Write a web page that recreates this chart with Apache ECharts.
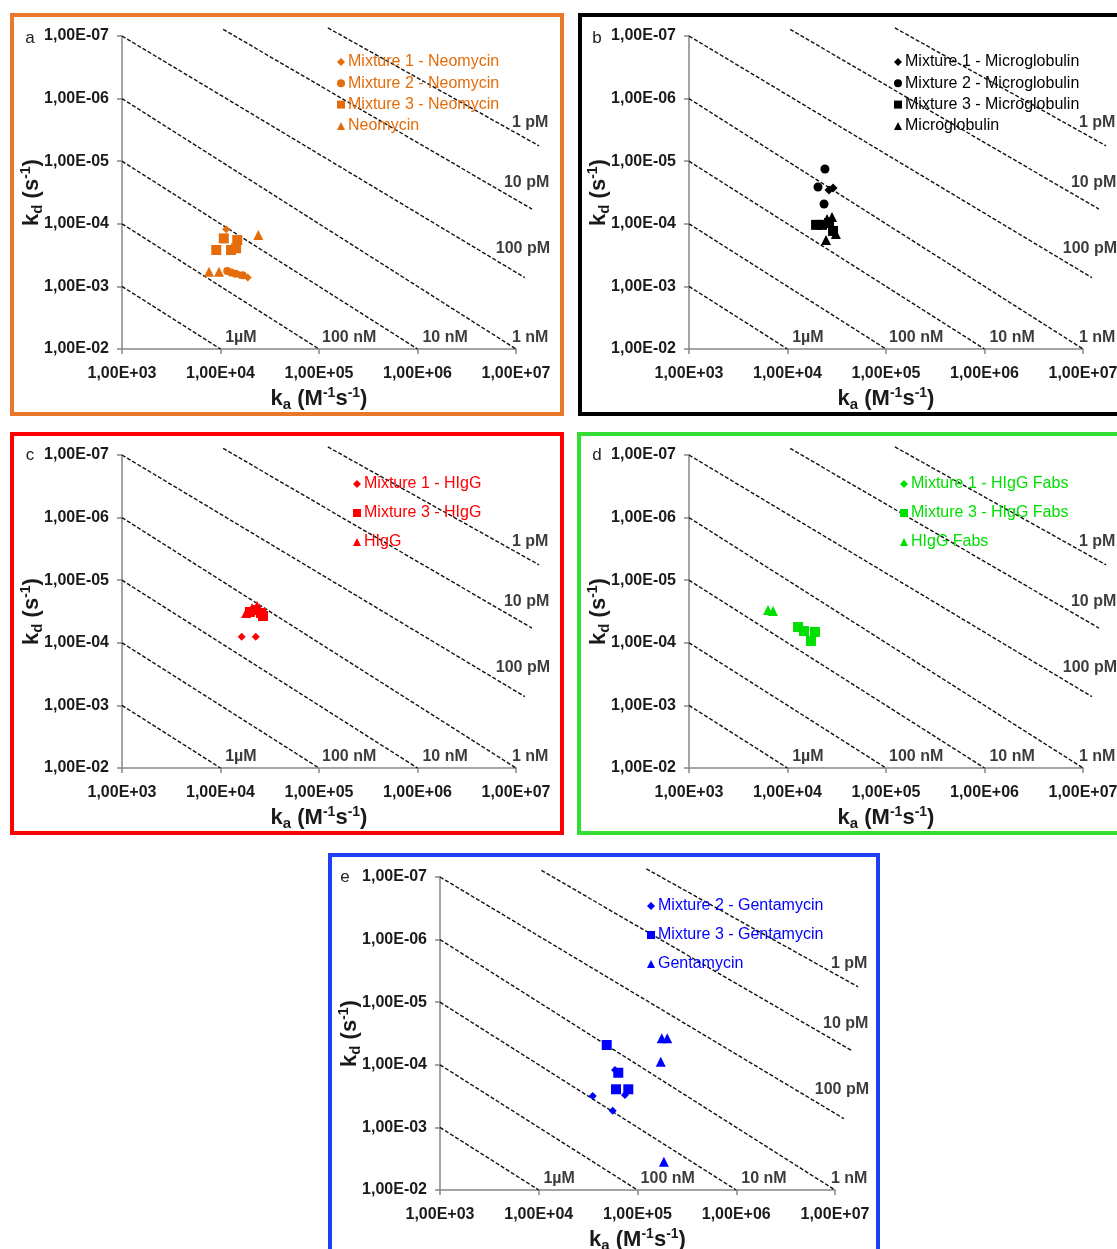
<!DOCTYPE html>
<html><head><meta charset="utf-8">
<script src="https://cdn.jsdelivr.net/npm/echarts/dist/echarts.min.js"></script>
<style>html,body{margin:0;padding:0;background:#fff}#c{width:1117px;height:1249px}</style>
</head><body><div id="c"></div>
<script>
// ---------------- data ----------------
const kaTicks = [1e3, 1e4, 1e5, 1e6, 1e7];
const kdTicks = [1e-7, 1e-6, 1e-5, 1e-4, 1e-3, 1e-2];

// iso-affinity (KD) dashed lines, endpoints as [log10 ka, log10 kd]
const isoNames   = ['1 pM', '10 pM', '100 pM', '1 nM', '10 nM', '100 nM', '1µM'];
const isoStart   = [[5.09, -7.13], [4.027, -7.106], [3, -7], [3, -6], [3, -5], [3, -4], [3, -3]];
const isoEnd     = [[7.234, -5.245], [7.162, -4.234], [7.09, -3.14], [7, -2], [6, -2], [5, -2], [4, -2]];
const isoLabelAt = [[7.144, -5.617], [7.108, -4.66], [7.07, -3.6], [7.144, -2.186], [6.28, -2.186], [5.306, -2.186], [4.207, -2.186]];

// panel a – Neomycin  [ka, kd]
const neoMix1 = [[1.14e4, 1.22e-4], [1.89e4, 7.2e-4], [1.56e4, 6.6e-4]];
const neoMix2 = [[1.17e4, 5.7e-4], [1.28e4, 6.0e-4], [1.42e4, 6.3e-4], [1.68e4, 6.65e-4]];
const neoMix3 = [[1.08e4, 1.71e-4], [1.48e4, 1.82e-4], [9.06e3, 2.62e-4], [1.28e4, 2.62e-4], [1.44e4, 2.46e-4]];
const neoFree = [[2.42e4, 1.51e-4], [7.64e3, 5.82e-4], [9.66e3, 5.82e-4]];

// panel b – Microglobulin
const micMix1 = [[2.64e4, 2.88e-5], [2.90e4, 2.68e-5]];
const micMix2 = [[2.40e4, 1.33e-5], [2.04e4, 2.58e-5], [2.35e4, 4.83e-5]];
const micMix3 = [[1.95e4, 1.04e-4], [2.24e4, 1.04e-4], [2.64e4, 9.7e-5], [2.90e4, 1.30e-4]];
const micFree = [[2.83e4, 7.8e-5], [2.52e4, 8.4e-5], [3.10e4, 1.46e-4], [2.46e4, 1.82e-4]];

// panel c – HIgG
const igMix1 = [[1.64e4, 8.0e-5], [2.28e4, 8.0e-5]];
const igMix3 = [[1.99e4, 3.22e-5], [2.29e4, 2.99e-5], [2.58e4, 3.34e-5], [2.70e4, 3.73e-5]];
const igFree = [[1.82e4, 3.34e-5], [2.09e4, 2.78e-5], [2.35e4, 2.58e-5]];

// panel d – HIgG Fabs
const fabMix1 = [[1.51e4, 6.25e-5]];
const fabMix3 = [[1.28e4, 5.6e-5], [1.47e4, 6.5e-5], [1.90e4, 6.7e-5], [1.73e4, 9.35e-5]];
const fabFree = [[6.34e3, 2.99e-5], [7.13e3, 3.11e-5]];

// panel e – Gentamycin
const genMix2 = [[5.92e4, 1.21e-4], [7.46e4, 3.03e-4], [3.52e4, 3.15e-4], [5.61e4, 5.4e-4]];
const genMix3 = [[4.88e4, 4.83e-5], [6.39e4, 1.34e-4], [6.06e4, 2.46e-4], [8.07e4, 2.46e-4]];
const genFree = [[1.76e5, 3.78e-5], [2.00e5, 3.78e-5], [1.72e5, 8.9e-5], [1.85e5, 3.53e-3]];

// ---------------- layout / style ----------------
const FONT = 'Liberation Sans, Arial, Helvetica, sans-serif';
const panels = [
  { letter: 'a', gx: 122, gy: 36, gw: 394, color: '#E46C0A', frame: '#E8782A', rect: [12, 15, 550, 399], lpos: [30, 38],
    legend: { left: 337, top: 54, gap: 5.3 },
    series: [['Mixture 1 - Neomycin', neoMix1, 'diamond', 8], ['Mixture 2 - Neomycin', neoMix2, 'circle', 8],
             ['Mixture 3 - Neomycin', neoMix3, 'rect', 10], ['Neomycin', neoFree, 'triangle', 10]] },
  { letter: 'b', gx: 689, gy: 36, gw: 394, color: '#000000', frame: '#000000', rect: [580, 15, 580, 399], lpos: [597, 38],
    legend: { left: 894, top: 54, gap: 5.3 },
    series: [['Mixture 1 - Microglobulin', micMix1, 'diamond', 9], ['Mixture 2 - Microglobulin', micMix2, 'circle', 9],
             ['Mixture 3 - Microglobulin', micMix3, 'rect', 10], ['Microglobulin', micFree, 'triangle', 10]] },
  { letter: 'c', gx: 122, gy: 455, gw: 394, color: '#FF0000', frame: '#FF0000', rect: [12, 434, 550, 399], lpos: [30, 455],
    legend: { left: 353, top: 476, gap: 13 },
    series: [['Mixture 1 - HIgG', igMix1, 'diamond', 8], ['Mixture 3 - HIgG', igMix3, 'rect', 10],
             ['HIgG', igFree, 'triangle', 10]] },
  { letter: 'd', gx: 689, gy: 455, gw: 394, color: '#00E000', frame: '#33DD33', rect: [579, 434, 580, 399], lpos: [597, 455],
    legend: { left: 900, top: 476, gap: 13 },
    series: [['Mixture 1 - HIgG Fabs', fabMix1, 'diamond', 8], ['Mixture 3 - HIgG Fabs', fabMix3, 'rect', 10],
             ['HIgG Fabs', fabFree, 'triangle', 10]] },
  { letter: 'e', gx: 440, gy: 877, gw: 395, color: '#0000FF', frame: '#1F3FF5', rect: [330, 855, 548, 420], lpos: [345, 877],
    legend: { left: 647, top: 898, gap: 13 },
    series: [['Mixture 2 - Gentamycin', genMix2, 'diamond', 8], ['Mixture 3 - Gentamycin', genMix3, 'rect', 10],
             ['Gentamycin', genFree, 'triangle', 10]] }
];

const fmtExp = v => {
  const e = Math.round(Math.log10(v));
  return '1,00E' + (e < 0 ? '-' : '+') + String(Math.abs(e)).padStart(2, '0');
};
const richName = {
  k:   { fontSize: 22, fontWeight: 'bold', color: '#1a1a1a', fontFamily: FONT, lineHeight: 26 },
  sub: { fontSize: 15, fontWeight: 'bold', color: '#1a1a1a', fontFamily: FONT, verticalAlign: 'bottom' },
  sup: { fontSize: 14, fontWeight: 'bold', color: '#1a1a1a', fontFamily: FONT, verticalAlign: 'top' }
};
const axisColor = '#868686';

const grids = [], xAxes = [], yAxes = [], series = [], legends = [], graphics = [];
const P = v => Math.pow(10, v);

panels.forEach((p, i) => {
  grids.push({ left: p.gx, top: p.gy, width: p.gw, height: 313, containLabel: false, outerBoundsMode: 'none' });
  xAxes.push({
    type: 'log', logBase: 10, gridIndex: i, min: kaTicks[0], max: kaTicks[kaTicks.length - 1],
    axisLine: { show: true, lineStyle: { color: axisColor, width: 1.5 } },
    axisTick: { show: true, length: 5, inside: false, lineStyle: { color: axisColor, width: 1.5 } },
    minorTick: { show: false }, splitLine: { show: false }, minorSplitLine: { show: false },
    axisLabel: { formatter: fmtExp, fontSize: 16, fontWeight: 'bold', color: '#1a1a1a', fontFamily: FONT,
                 margin: 17, showMinLabel: true, showMaxLabel: true, hideOverlap: false },
    name: '{k|k}{sub|a}{k| (M}{sup|-1}{k|s}{sup|-1}{k|)}', nameLocation: 'middle', nameGap: 37,
    nameMoveOverlap: false,
    nameTextStyle: { rich: richName }
  });
  yAxes.push({
    type: 'log', logBase: 10, gridIndex: i, min: kdTicks[0], max: kdTicks[kdTicks.length - 1], inverse: true,
    axisLine: { show: true, lineStyle: { color: axisColor, width: 1.5 } },
    axisTick: { show: true, length: 5, inside: false, lineStyle: { color: axisColor, width: 1.5 } },
    minorTick: { show: false }, splitLine: { show: false }, minorSplitLine: { show: false },
    axisLabel: { formatter: fmtExp, fontSize: 16, fontWeight: 'bold', color: '#1a1a1a', fontFamily: FONT,
                 margin: 13, showMinLabel: true, showMaxLabel: true, hideOverlap: false },
    name: '{k|k}{sub|d}{k| (s}{sup|-1}{k|)}', nameLocation: 'middle', nameGap: 77, nameRotate: 90,
    nameMoveOverlap: false,
    nameTextStyle: { rich: richName }
  });

  // dashed iso-KD lines (custom series so they may run past the axis end, as in the original)
  series.push({
    type: 'custom', name: p.letter + '-iso', xAxisIndex: i, yAxisIndex: i, silent: true, clip: false, z: 1,
    animation: false,
    data: isoNames.map((nm, j) => [P(isoStart[j][0]), P(isoStart[j][1]), P(isoEnd[j][0]), P(isoEnd[j][1])]),
    encode: { x: [0, 2], y: [1, 3] },
    renderItem: (params, api) => {
      const s = api.coord([api.value(0), api.value(1)]);
      const e = api.coord([api.value(2), api.value(3)]);
      return { type: 'line', shape: { x1: s[0], y1: s[1], x2: e[0], y2: e[1] },
               style: { stroke: '#111', lineWidth: 1.4, lineDash: [4, 2] } };
    }
  });
  // iso labels
  series.push({
    type: 'scatter', name: p.letter + '-isoLabels', xAxisIndex: i, yAxisIndex: i, silent: true, clip: false,
    symbolSize: 1, itemStyle: { color: 'transparent' }, z: 3, animation: false,
    data: isoNames.map((nm, j) => ({ name: nm, value: [P(isoLabelAt[j][0]), P(isoLabelAt[j][1])] })),
    label: { show: true, position: 'inside', formatter: '{b}', fontSize: 16, fontWeight: 'bold',
             color: '#0a0a0a', fontFamily: FONT }
  });
  // data series
  p.series.forEach(([nm, data, sym, size]) => {
    series.push({
      type: 'scatter', name: nm, xAxisIndex: i, yAxisIndex: i, data: data, symbol: sym, symbolSize: size,
      itemStyle: { color: p.color, opacity: 1 }, z: 5, animation: false
    });
  });
  legends.push({
    orient: 'vertical', left: p.legend.left, top: p.legend.top, padding: 0, itemGap: p.legend.gap,
    itemWidth: 8, itemHeight: 8, selectedMode: false,
    data: p.series.map(s => ({ name: s[0], icon: s[2] })),
    textStyle: { color: p.color, fontSize: 16, fontFamily: FONT, lineHeight: 16, padding: [0, 0, 0, -2] },
    itemStyle: { color: p.color }
  });
  graphics.push({
    type: 'rect', shape: { x: p.rect[0], y: p.rect[1], width: p.rect[2], height: p.rect[3] },
    style: { fill: 'none', stroke: p.frame, lineWidth: 4 }, z: 0, silent: true
  });
  graphics.push({
    type: 'text', x: p.lpos[0], y: p.lpos[1], silent: true,
    style: { text: p.letter, fill: '#222', font: '17px ' + FONT, textAlign: 'center', textVerticalAlign: 'middle', verticalAlign: 'middle' }
  });
});

const chart = echarts.init(document.getElementById('c'), null, { renderer: 'canvas' });
chart.setOption({
  backgroundColor: '#ffffff',
  animation: false,
  grid: grids, xAxis: xAxes, yAxis: yAxes, series: series, legend: legends, graphic: graphics,
  tooltip: { show: false }
});
</script>
</body></html>
